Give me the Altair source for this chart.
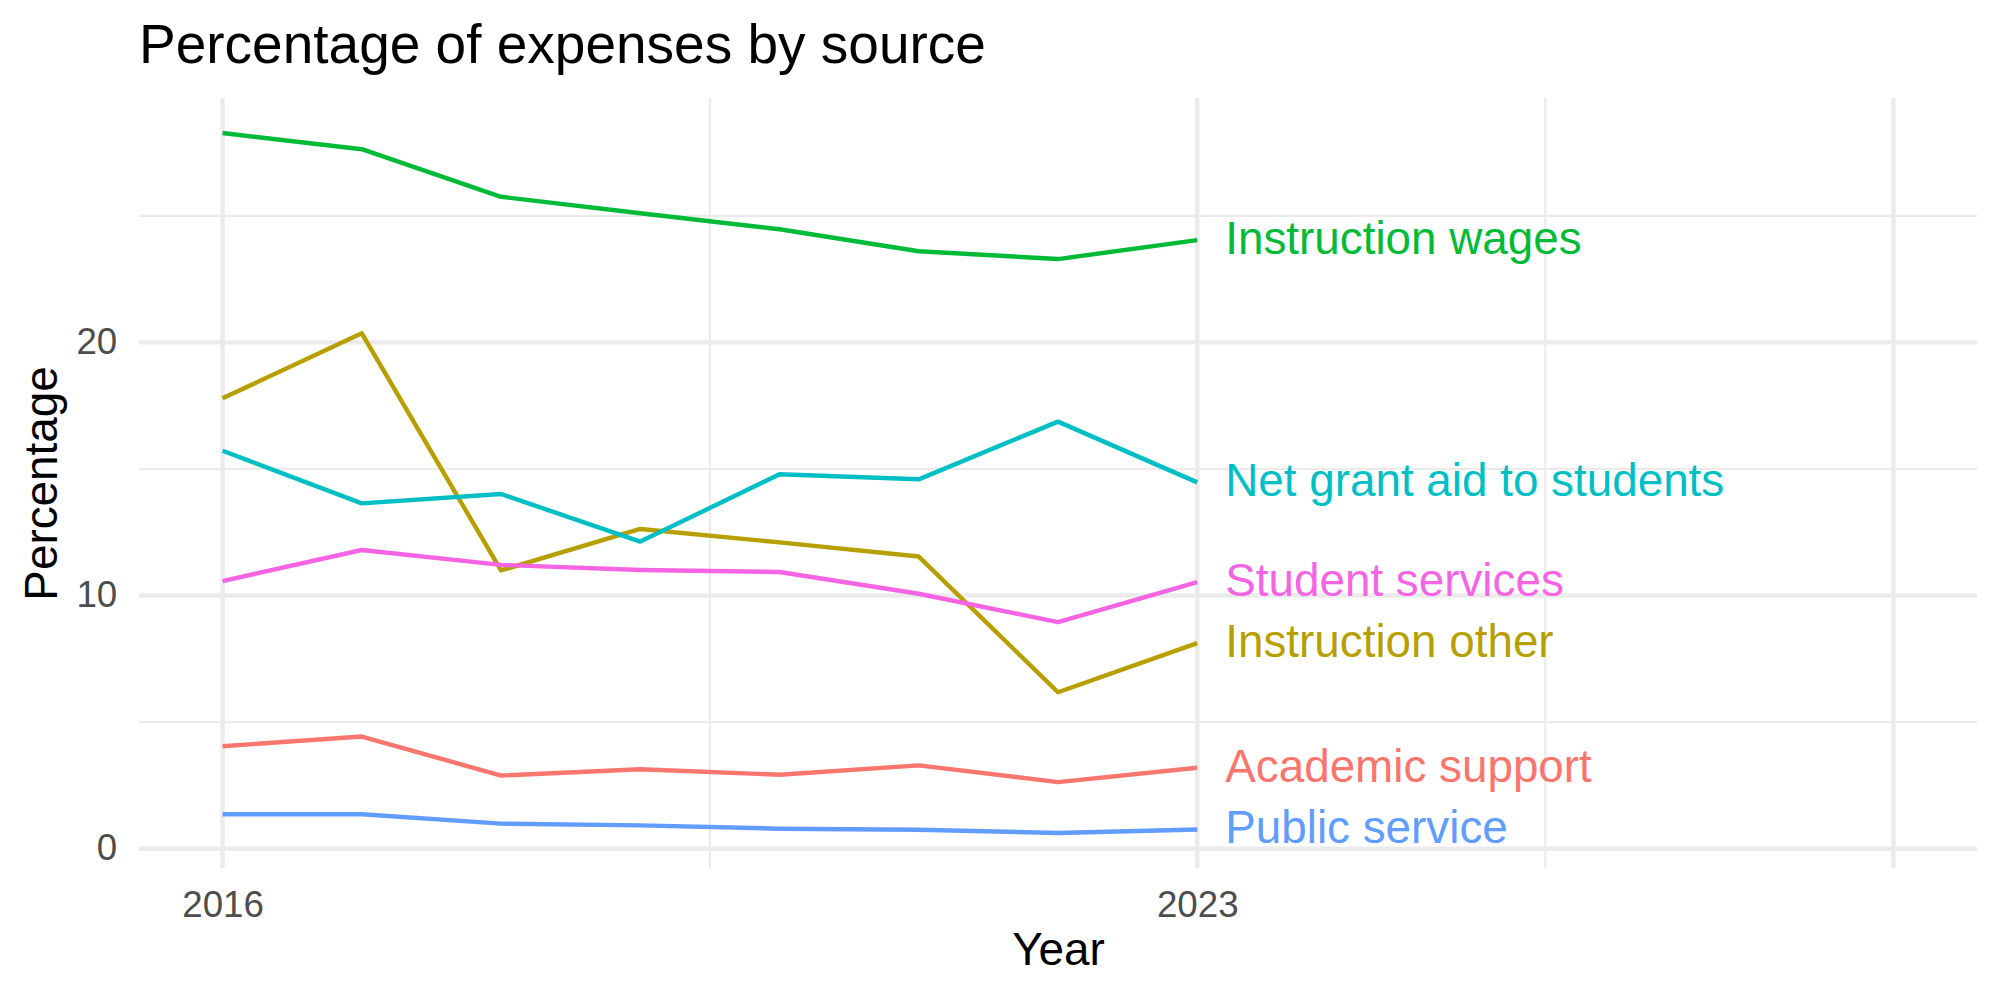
import altair as alt
import pandas as pd

FONT = "Liberation Sans"

# ---- data ----
years = [2016, 2017, 2018, 2019, 2020, 2021, 2022, 2023]
sources = [
    "Academic support",
    "Instruction other",
    "Instruction wages",
    "Net grant aid to students",
    "Public service",
    "Student services",
]
academic_support = [4.05, 4.43, 2.89, 3.14, 2.92, 3.29, 2.63, 3.20]
instruction_other = [17.79, 20.36, 10.99, 12.63, 12.10, 11.54, 6.18, 8.12]
instruction_wages = [28.27, 27.63, 25.75, 25.10, 24.47, 23.60, 23.29, 24.04]
net_grant_aid = [15.72, 13.64, 14.01, 12.13, 14.79, 14.59, 16.87, 14.47]
public_service = [1.36, 1.36, 0.99, 0.92, 0.79, 0.75, 0.62, 0.76]
student_services = [10.57, 11.80, 11.21, 11.01, 10.93, 10.07, 8.95, 10.53]
series = [academic_support, instruction_other, instruction_wages,
          net_grant_aid, public_service, student_services]
colors = ["#F8766D", "#B79F00", "#00BA38", "#00BFC4", "#619CFF", "#F564E3"]

# axis settings
x_limits = [2016, 2028]
x_breaks = [2016, 2023]
x_grid_major = [2016, 2023, 2028]
x_grid_minor = [2019.5, 2025.5]
y_breaks = [0, 10, 20]
y_grid_minor = [5, 15, 25]

rows = []
for s, vals in zip(sources, series):
    for yr, v in zip(years, vals):
        rows.append({"Year": yr, "Percentage": v, "Source": s})
df = pd.DataFrame(rows)
last = df[df["Year"] == max(years)]

# ---- layout ----
W, H = 1838, 770
PAD_L, PAD_T = 139, 98

xr = x_limits[1] - x_limits[0]
x_dom = [x_limits[0] - 0.05 * xr, x_limits[1] + 0.05 * xr]
ymin, ymax = df["Percentage"].min(), df["Percentage"].max()
yr_ = ymax - ymin
y_dom = [ymin - 0.05 * yr_, ymax + 0.05 * yr_]

xs = alt.Scale(domain=x_dom, nice=False, zero=False)
ys = alt.Scale(domain=y_dom, nice=False, zero=False)
GRID = "#EBEBEB"
MAJ, MIN = 4.4, 2.2

x_axis = alt.Axis(
    values=x_breaks, format="d", title="Year", grid=False, domain=False,
    ticks=False, tickSize=0, labelPadding=19, labelBaseline="top",
    labelFontSize=36.7, labelColor="#4D4D4D", labelFont=FONT,
    labelFlush=False, labelOverlap=False,
    titleFontSize=45.8, titleFont=FONT, titleColor="black",
    titleFontWeight="normal", titleX=W / 2, titleY=96.6,
    titleBaseline="alphabetic", titleAlign="center",
)
y_axis = alt.Axis(
    values=y_breaks, format="d", title="Percentage", grid=False, domain=False,
    ticks=False, tickSize=0, labelPadding=22.3, labelAlign="right",
    labelBaseline="middle", labelFontSize=36.7, labelColor="#4D4D4D",
    labelFont=FONT, labelFlush=False, labelOverlap=False,
    titleFontSize=45.8, titleFont=FONT, titleColor="black",
    titleFontWeight="normal", titleAngle=270, titleX=-82.3, titleY=H / 2,
    titleBaseline="alphabetic", titleAlign="center",
)

vmaj = alt.Chart(pd.DataFrame({"gx": x_grid_major})).mark_rule(
    color=GRID, strokeWidth=MAJ).encode(x=alt.X("gx:Q", scale=xs, axis=x_axis))
vmin = alt.Chart(pd.DataFrame({"gx": x_grid_minor})).mark_rule(
    color=GRID, strokeWidth=MIN).encode(x=alt.X("gx:Q", scale=xs, axis=x_axis))
hmaj = alt.Chart(pd.DataFrame({"gy": y_breaks})).mark_rule(
    color=GRID, strokeWidth=MAJ).encode(y=alt.Y("gy:Q", scale=ys, axis=y_axis))
hmin = alt.Chart(pd.DataFrame({"gy": y_grid_minor})).mark_rule(
    color=GRID, strokeWidth=MIN).encode(y=alt.Y("gy:Q", scale=ys, axis=y_axis))

color = alt.Color("Source:N", scale=alt.Scale(domain=sources, range=colors),
                  legend=None)

lines = alt.Chart(df).mark_line(strokeWidth=4.44, strokeJoin="round",
                                strokeCap="butt").encode(
    x=alt.X("Year:Q", scale=xs, axis=x_axis),
    y=alt.Y("Percentage:Q", scale=ys, axis=y_axis),
    color=color,
)

labels = alt.Chart(last).mark_text(
    align="left", baseline="middle", dx=28, fontSize=45.8, font=FONT
).encode(
    x=alt.X("Year:Q", scale=xs, axis=x_axis),
    y=alt.Y("Percentage:Q", scale=ys, axis=y_axis),
    text="Source:N",
    color=color,
)

chart = alt.layer(vmin, hmin, vmaj, hmaj, lines, labels).properties(
    width=W, height=H,
    title=alt.Title("Percentage of expenses by source", anchor="start",
                    frame="group", fontSize=55, font=FONT,
                    fontWeight="normal", color="black",
                    baseline="alphabetic", offset=35, dy=57),
    autosize=alt.AutoSizeParams(type="none"),
    padding={"left": PAD_L, "top": PAD_T, "right": 2000 - PAD_L - W,
             "bottom": 1000 - PAD_T - H},
    background="white",
).configure_view(stroke=None)

chart.save("out.html", embed_options={"renderer": "svg", "actions": False})
